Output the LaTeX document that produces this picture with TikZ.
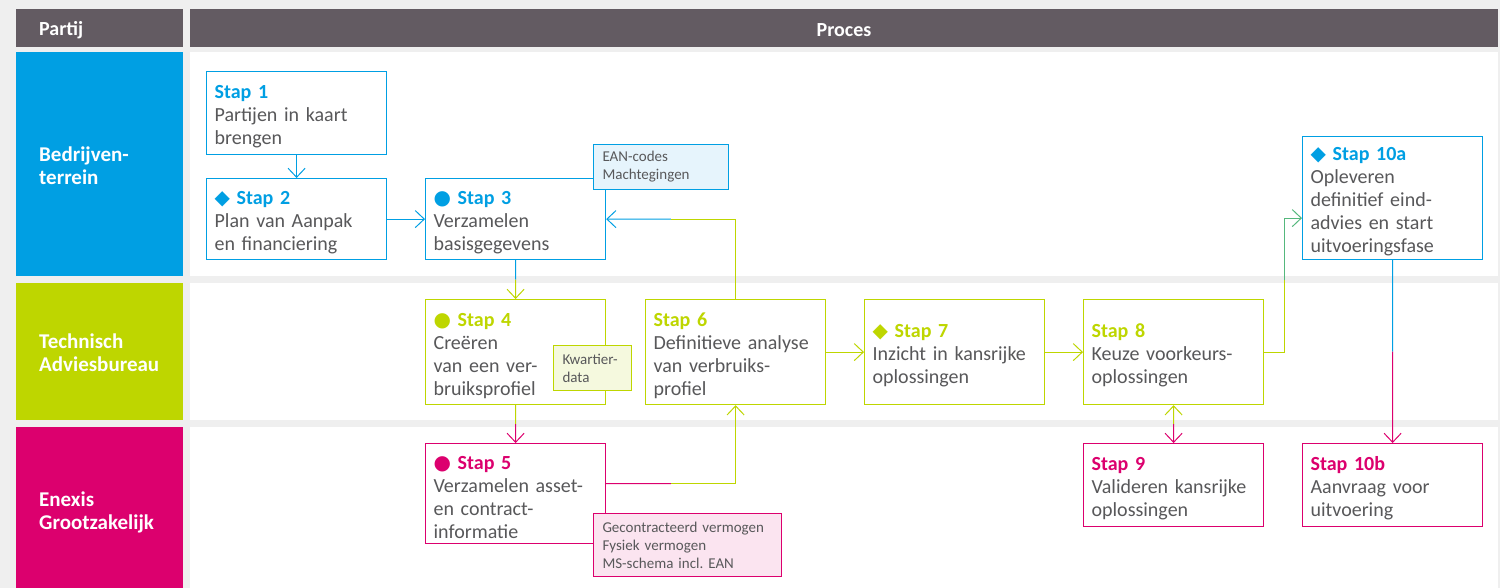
\documentclass[tikz,border=0pt]{standalone}
\usepackage{fontspec}
\setmainfont{Carlito}
\newfontfamily\symfont{DejaVu Sans}
\usetikzlibrary{arrows.meta,positioning,calc}
\definecolor{bgGrey}{RGB}{239,239,239}
\definecolor{hdrGrey}{RGB}{99,91,98}
\definecolor{txtGrey}{RGB}{88,88,90}
\definecolor{enBlue}{RGB}{0,159,227}
\definecolor{enGreen}{RGB}{190,214,0}
\definecolor{enPink}{RGB}{220,0,110}
\definecolor{lightBlue}{RGB}{230,244,252}
\definecolor{lightGreen}{RGB}{245,249,222}
\definecolor{lightPink}{RGB}{251,228,240}
\colorlet{tealMix}{enBlue!55!enGreen}
\newcommand{\stap}[2]{{\color{#1}\bfseries #2}}
\newcommand{\ruit}{{\symfont ◆}}
\newcommand{\bol}{{\symfont ●}}
\frenchspacing

\begin{document}
\begin{tikzpicture}[x=1pt, y=-1pt,
  stapbox/.style={draw=#1, line width=1.2pt, fill=white, anchor=north west,
    text width=164pt, inner xsep=8pt, inner ysep=0pt, align=left,
    text=txtGrey, font=\fontsize{20}{23}\selectfont,
    execute at begin node={\rule{0pt}{21pt}}},
  note/.style={draw=#1, line width=1pt, anchor=north west, align=left,
    inner xsep=9pt, inner ysep=0pt, text=txtGrey, font=\fontsize{15}{18}\selectfont},
  partij/.style={anchor=west, align=left, text=white, inner sep=0pt,
    font=\fontsize{21}{23}\selectfont\bfseries},
  conn/.style={line width=1pt},
  >={Straight Barb[length=9pt,width=17pt]}
]
  % achtergrond en kolommen
  \useasboundingbox (0,0) rectangle (1500,588);
  \fill[bgGrey] (0,0) rectangle (1500,588);
  \fill[hdrGrey] (16,9) rectangle (183,47);
  \fill[hdrGrey] (190,9) rectangle (1498,47);
  \fill[enBlue] (16,52) rectangle (183,276);
  \fill[enGreen] (16,283) rectangle (183,420);
  \fill[enPink] (16,427) rectangle (183,588);
  \fill[white] (190,52) rectangle (1498,276);
  \fill[white] (190,283) rectangle (1498,420);
  \fill[white] (190,427) rectangle (1498,588);

  \node[partij, font=\fontsize{20}{23}\selectfont\bfseries] (hpartij) at (39,30) {Partij};
  \node[partij, anchor=center, font=\fontsize{20}{23}\selectfont\bfseries] (hproces) at (844,30) {Proces};
  \node[partij] (pbedrijf) at (39,166) {Bedrijven-\\terrein};
  \node[partij] (padvies) at (39,353) {Technisch\\Adviesbureau};
  \node[partij] (penexis) at (39,512) {Enexis\\Grootzakelijk};

  % stappen
  \node[stapbox=enBlue, minimum height=83pt] (s1) at (206,71) {\stap{enBlue}{Stap 1}\\Partijen in kaart\\brengen};
  \node[stapbox=enBlue, minimum height=81pt] (s2) at (206,178) {\stap{enBlue}{\ruit{} Stap 2}\\Plan van Aanpak\\en financiering};
  \node[stapbox=enBlue, minimum height=81pt] (s3) at (425,178) {\stap{enBlue}{\bol{} Stap 3}\\Verzamelen\\basisgegevens};
  \node[stapbox=enGreen, minimum height=105pt] (s4) at (425,299) {\stap{enGreen}{\bol{} Stap 4}\\Creëren\\van een ver-\\bruiksprofiel};
  \node[stapbox=enPink, minimum height=100pt] (s5) at (425,443) {\stap{enPink}{\bol{} Stap 5}\\Verzamelen asset-\\en contract-\\informatie};
  \node[stapbox=enGreen, minimum height=105pt] (s6) at (645,299) {\stap{enGreen}{Stap 6}\\Definitieve analyse\\van verbruiks-\\profiel};
  \node[stapbox=enGreen, minimum height=105pt] (s7) at (864,299) {\stap{enGreen}{\ruit{} Stap 7}\\Inzicht in kansrijke\\oplossingen};
  \node[stapbox=enGreen, minimum height=105pt] (s8) at (1083,299) {\stap{enGreen}{Stap 8}\\Keuze voorkeurs-\\oplossingen};
  \node[stapbox=enPink, minimum height=83pt] (s9) at (1083,443) {\stap{enPink}{Stap 9}\\Valideren kansrijke\\oplossingen};
  \node[stapbox=enBlue, minimum height=123pt] (s10a) at (1302,136) {\stap{enBlue}{\ruit{} Stap 10a}\\Opleveren\\definitief eind-\\advies en start\\uitvoeringsfase};
  \node[stapbox=enPink, minimum height=83pt] (s10b) at (1302,443) {\stap{enPink}{Stap 10b}\\Aanvraag voor\\uitvoering};

  % verbindingen
  \draw[conn, enBlue, ->] (s1) -- (s2);
  \draw[conn, enBlue, ->] (s2) -- (s3);
  \coordinate (m34) at ($(s3.south)!0.5!(s4.north)$);
  \draw[conn, enBlue] (s3) -- (m34);
  \draw[conn, enGreen, ->] (m34) -- (s4);
  \coordinate (m63) at ($(s3.east)!0.5!(s3.east -| s6.north)$);
  \draw[conn, enGreen] (s6.north) |- (m63);
  \draw[conn, enBlue, ->] (m63) -- (s3.east);
  \coordinate (m45) at ($(s4.south)!0.5!(s5.north)$);
  \draw[conn, enGreen] (s4) -- (m45);
  \draw[conn, enPink, ->] (m45) -- (s5);
  \coordinate (u5) at ([yshift=10pt]s5.east);
  \coordinate (m56) at ($(u5)!0.5!(u5 -| s6.south)$);
  \draw[conn, enPink] (u5) -- (m56);
  \draw[conn, enGreen, ->] (m56) -| (s6.south);
  \draw[conn, enGreen, ->] (s6) -- (s7);
  \draw[conn, enGreen, ->] (s7) -- (s8);
  \coordinate (k8) at ($(s8.east |- m34)+(20,0)$);
  \draw[conn, enGreen] (s8.east) -| (k8);
  \draw[conn, tealMix, ->] (k8) |- ([yshift=-20pt]s10a.west);
  \coordinate (m89) at ($(s8.south)!0.5!(s9.north)$);
  \draw[conn, enGreen, <-] (s8) -- (m89);
  \draw[conn, enPink, ->] (m89) -- (s9);
  \coordinate (m10) at ($(s10a.south)!0.5!(s10b.north)$);
  \draw[conn, enBlue] (s10a) -- (m10);
  \draw[conn, enPink, ->] (m10) -- (s10b);

  % notities
  \node[note=enBlue, fill=lightBlue, minimum height=45pt, text width=117pt] (ean) at (593,144) {EAN-codes\\Machtegingen};
  \node[note=enGreen, fill=lightGreen, minimum height=45pt, text width=60pt] (kwartier) at (553,345) {Kwartier-\\data};
  \node[note=enPink, fill=lightPink, minimum height=63pt, text width=170pt] (contract) at (593,513) {Gecontracteerd vermogen\\Fysiek vermogen\\MS-schema incl. EAN};
\end{tikzpicture}
\end{document}
